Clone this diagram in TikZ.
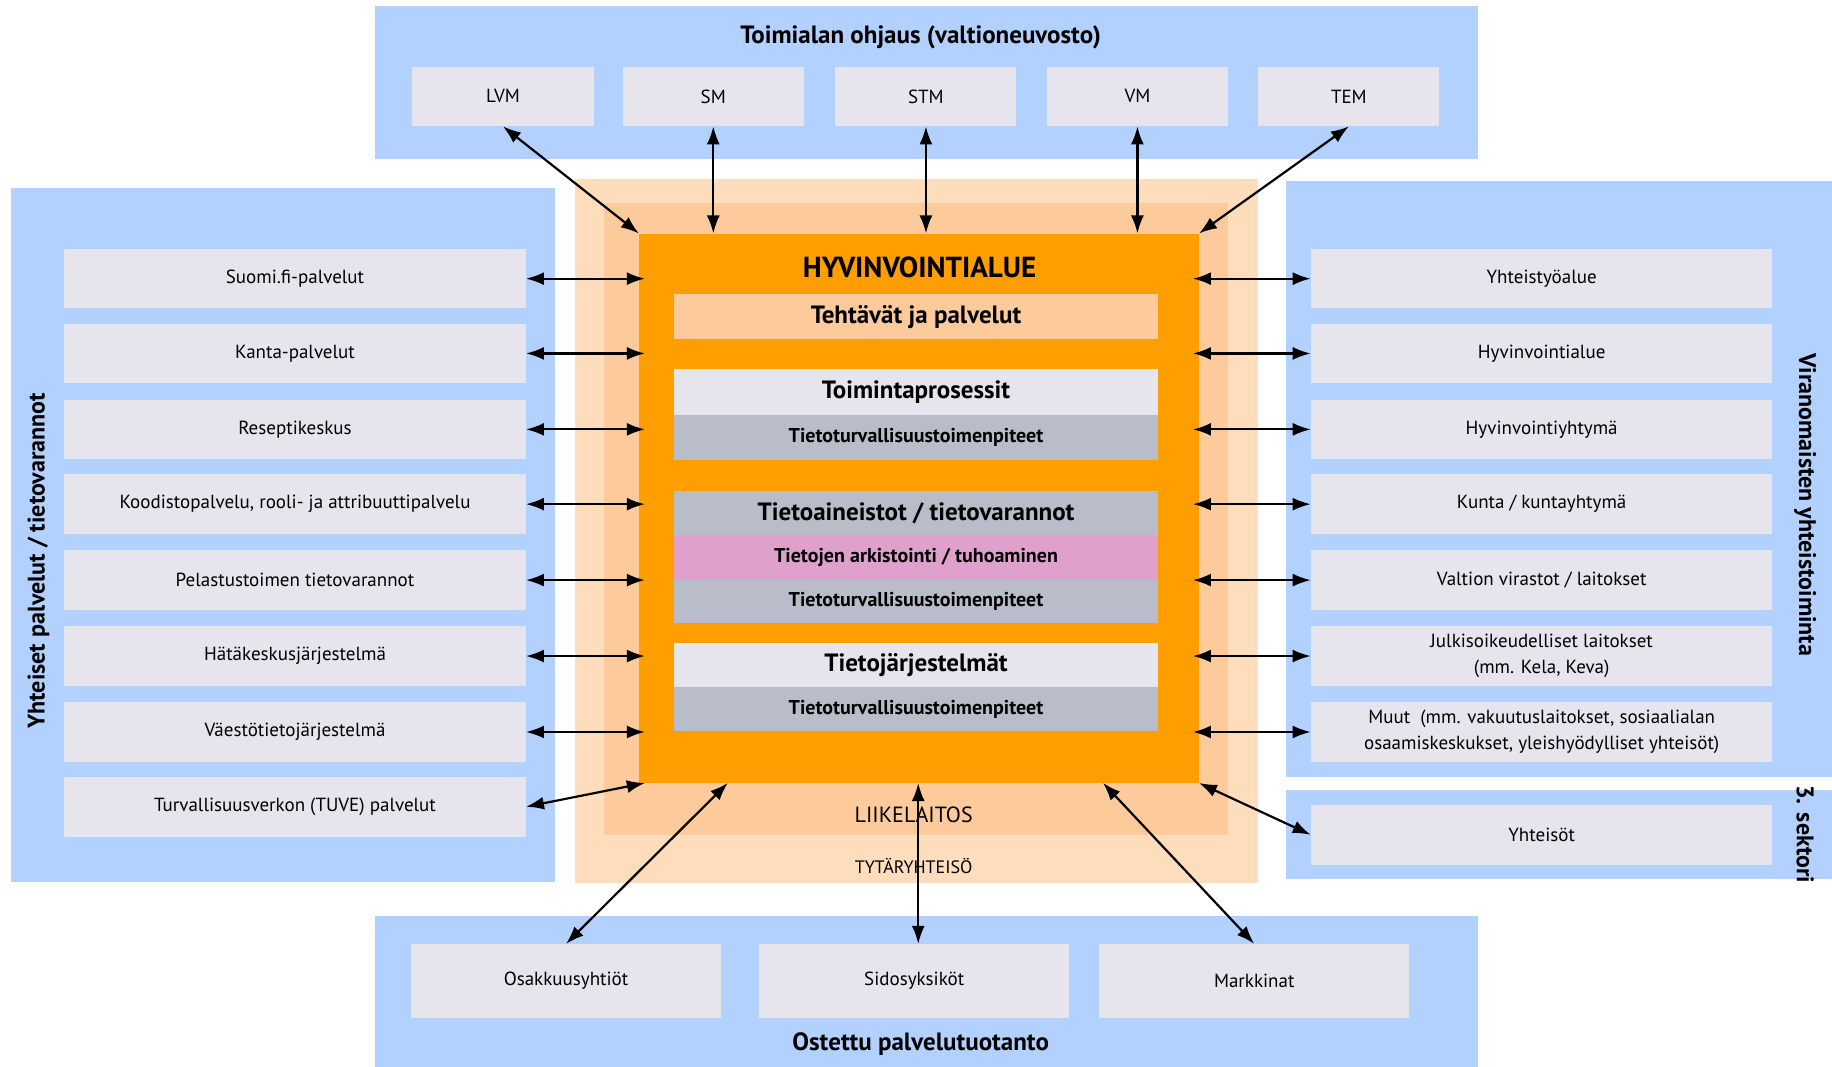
\documentclass[tikz,border=0pt]{standalone}
\usepackage{fontspec}
\setmainfont{PT Sans}
\usetikzlibrary{arrows.meta}
\definecolor{blu}{RGB}{179,209,254}
\definecolor{itemgrey}{RGB}{230,228,236}
\definecolor{coreor}{RGB}{254,158,0}
\definecolor{midpeach}{RGB}{253,203,155}
\definecolor{outpeach}{RGB}{253,221,187}
\definecolor{secgrey}{RGB}{185,189,201}
\definecolor{pinkish}{RGB}{223,161,203}
% \bx{name}{style}{x1}{y1}{x2}{y2}{text}
\newcommand\bx[7]{\node[#2, minimum width={(#5-#3)*1.1684pt}, minimum height={(#6-#4)*1.1684pt}] (#1) at ({(#3+#5)/2},{(#4+#6)/2}) {#7};}
\begin{document}
\begin{tikzpicture}[x=1.1684pt,y=-1.1684pt,
  panel/.style={fill=blu, inner sep=0pt},
  item/.style={fill=itemgrey, inner sep=0pt, align=center, font=\fontsize{19}{26}\selectfont},
  sect/.style={inner sep=0pt, align=center, font=\fontsize{20}{24}\selectfont\bfseries},
  head/.style={inner sep=0pt, align=center, font=\fontsize{25}{28}\selectfont\bfseries},
  ttl/.style={inner sep=0pt, font=\fontsize{25}{28}\selectfont\bfseries},
  vlab/.style={inner sep=0pt, font=\fontsize{24}{28}\selectfont\bfseries},
  arr/.style={{Latex[length=18pt,width=13pt]}-{Latex[length=18pt,width=13pt]}, line width=2.2pt}]
\useasboundingbox (0,0) rectangle (1568,913);
% panels
\bx{ptop}{panel}{321}{5}{1265}{136}{}
\bx{pleft}{panel}{9}{161}{475}{755}{}
\bx{pright}{panel}{1101}{155}{1568}{665}{}
\bx{pright2}{panel}{1101}{676}{1568}{752}{}
\bx{pbot}{panel}{321}{784}{1265}{913}{}
% orange layers
\bx{outer}{fill=outpeach, inner sep=0pt}{492}{153}{1077}{756}{}
\bx{mid}{fill=midpeach, inner sep=0pt}{517}{174}{1051}{715}{}
\bx{core}{fill=coreor, inner sep=0pt}{547}{200}{1026}{670}{}
% titles
\node[ttl] (ttop) at (788,32) {Toimialan ohjaus (valtioneuvosto)};
\node[ttl] (tbot) at (788,894) {Ostettu palvelutuotanto};
\node[vlab, rotate=90] (tleft) at (33,480) {Yhteiset palvelut / tietovarannot};
\node[vlab, rotate=-90] (tright) at (1545,432) {Viranomaisten yhteistoiminta};
\node[vlab, rotate=-90] (tright2) at (1545,714) {3. sektori};
% top items
\bx{LVM}{item}{353}{57}{508}{108}{LVM}
\bx{SM}{item}{533}{57}{688}{108}{SM}
\bx{STM}{item}{715}{57}{870}{108}{STM}
\bx{VM}{item}{896}{57}{1051}{108}{VM}
\bx{TEM}{item}{1077}{57}{1232}{108}{TEM}
% left items
\bx{L1}{item}{55}{213}{450}{264}{Suomi.fi-palvelut}
\bx{L2}{item}{55}{277}{450}{328}{Kanta-palvelut}
\bx{L3}{item}{55}{342}{450}{393}{Reseptikeskus}
\bx{L4}{item}{55}{406}{450}{457}{Koodistopalvelu, rooli- ja attribuuttipalvelu}
\bx{L5}{item}{55}{471}{450}{522}{Pelastustoimen tietovarannot}
\bx{L6}{item}{55}{536}{450}{587}{Hätäkeskusjärjestelmä}
\bx{L7}{item}{55}{601}{450}{652}{Väestötietojärjestelmä}
\bx{L8}{item}{55}{665}{450}{716}{Turvallisuusverkon (TUVE) palvelut}
% right items
\bx{R1}{item}{1122}{213}{1517}{264}{Yhteistyöalue}
\bx{R2}{item}{1122}{277}{1517}{328}{Hyvinvointialue}
\bx{R3}{item}{1122}{342}{1517}{393}{Hyvinvointiyhtymä}
\bx{R4}{item}{1122}{406}{1517}{457}{Kunta / kuntayhtymä}
\bx{R5}{item}{1122}{471}{1517}{522}{Valtion virastot / laitokset}
\bx{R6}{item}{1122}{536}{1517}{587}{Julkisoikeudelliset laitokset\\(mm. Kela, Keva)}
\bx{R7}{item}{1122}{601}{1517}{652}{Muut\ \ (mm. vakuutuslaitokset, sosiaalialan\\osaamiskeskukset, yleishyödylliset yhteisöt)}
\bx{R8}{item}{1122}{689}{1517}{740}{Yhteisöt}
% bottom items
\bx{B1}{item}{352}{808}{617}{871}{Osakkuusyhtiöt}
\bx{B2}{item}{650}{808}{915}{871}{Sidosyksiköt}
\bx{B3}{item}{941}{808}{1206}{871}{Markkinat}
% core content
\node[inner sep=0pt, font=\fontsize{29}{32}\selectfont\bfseries] (hva) at (787,229) {HYVINVOINTIALUE};
\bx{teh}{head, fill=midpeach}{577}{252}{991}{290}{Tehtävät ja palvelut}
\bx{toim}{head, fill=itemgrey}{577}{316}{991}{355}{Toimintaprosessit}
\bx{tt1}{sect, fill=secgrey}{577}{355}{991}{394}{Tietoturvallisuustoimenpiteet}
\bx{taine}{head, fill=secgrey}{577}{420}{991}{458}{Tietoaineistot / tietovarannot}
\bx{ark}{sect, fill=pinkish}{577}{458}{991}{496}{Tietojen arkistointi / tuhoaminen}
\bx{tt2}{sect, fill=secgrey}{577}{496}{991}{533}{Tietoturvallisuustoimenpiteet}
\bx{tjar}{head, fill=itemgrey}{577}{550}{991}{588}{Tietojärjestelmät}
\bx{tt3}{sect, fill=secgrey}{577}{588}{991}{626}{Tietoturvallisuustoimenpiteet}
\node[inner sep=0pt, font=\fontsize{22}{24}\selectfont] (liike) at (782,697) {LIIKELAITOS};
\node[inner sep=0pt, font=\fontsize{18}{20}\selectfont] (tyt) at (782,741) {TYTÄRYHTEISÖ};
% connectors
\coordinate (cb1) at (623,670);
\coordinate (cb3) at (944,670);
\draw[arr] (LVM.south) -- (core.north west);
\draw[arr] (SM.south) -- (SM.south |- core.north);
\draw[arr] (STM.south) -- (STM.south |- core.north);
\draw[arr] (VM.south) -- (VM.south |- core.north);
\draw[arr] (TEM.south) -- (core.north east);
\foreach \i in {1,...,7} {
  \draw[arr] (L\i.east) -- ([xshift=6pt]core.west |- L\i.east);
  \draw[arr] (R\i.west) -- ([xshift=-6pt]core.east |- R\i.west);
}
\draw[arr] (L8.east) -- ([xshift=6pt]core.south west);
\draw[arr] (R8.west) -- (core.south east);
\draw[arr] (B1.north) -- (cb1);
\draw[arr] ([xshift=4pt]B2.north) -- ([xshift=4pt]B2.north |- core.south);
\draw[arr] (B3.north) -- (cb3);
\end{tikzpicture}
\end{document}
